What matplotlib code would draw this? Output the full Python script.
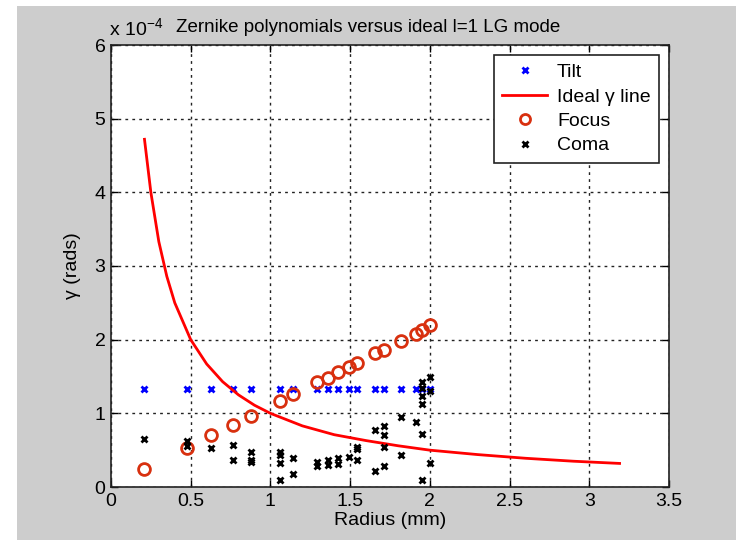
import numpy as np
import matplotlib
matplotlib.use('Agg')
import matplotlib.pyplot as plt
from matplotlib.patches import Rectangle

plt.rcParams['font.family'] = ['Liberation Sans', 'DejaVu Sans']
plt.rcParams['mathtext.fontset'] = 'custom'
plt.rcParams['mathtext.rm'] = 'Liberation Sans'

# radius samples (mm) shared by tilt / focus
radius = [0.21, 0.475, 0.63, 0.765, 0.875, 1.06, 1.14, 1.29, 1.36, 1.425,
          1.49, 1.545, 1.655, 1.715, 1.82, 1.91, 1.95, 2.0]
tilt = [1.33] * len(radius)
focus = [0.25, 0.53, 0.70, 0.84, 0.965, 1.165, 1.26, 1.42, 1.48, 1.56,
         1.63, 1.69, 1.825, 1.865, 1.98, 2.075, 2.13, 2.195]

# ideal gamma line
ideal_r = [0.21, 0.25, 0.3, 0.35, 0.4, 0.5, 0.6, 0.7, 0.8, 0.9, 1.0, 1.2,
           1.4, 1.6, 1.8, 2.0, 2.3, 2.6, 2.9, 3.19]
ideal_g = [4.72, 4.0, 3.33, 2.86, 2.5, 2.0, 1.67, 1.43, 1.25, 1.11, 1.0, 0.83,
           0.71, 0.63, 0.56, 0.5, 0.44, 0.39, 0.35, 0.32]

# coma points
coma_r = [0.21, 0.475, 0.475, 0.63, 0.765, 0.765, 0.875, 0.875, 0.875,
          1.06, 1.06, 1.06, 1.06, 1.14, 1.14, 1.29, 1.29, 1.36, 1.36,
          1.425, 1.425, 1.49, 1.545, 1.545, 1.545, 1.655, 1.655,
          1.715, 1.715, 1.715, 1.715, 1.82, 1.82, 1.91, 1.95, 1.95, 1.95,
          1.95, 1.95, 1.95, 2.0, 2.0, 2.0]
coma = [0.645, 0.62, 0.56, 0.525, 0.565, 0.37, 0.48, 0.37, 0.34,
        0.48, 0.44, 0.33, 0.10, 0.40, 0.17, 0.34, 0.28, 0.36, 0.30,
        0.39, 0.31, 0.41, 0.545, 0.51, 0.36, 0.775, 0.22,
        0.83, 0.70, 0.54, 0.28, 0.95, 0.44, 0.885, 1.43, 1.34, 1.24,
        1.12, 0.72, 0.10, 1.49, 1.30, 0.33]

fig = plt.figure(figsize=(7.36, 5.4), dpi=100, facecolor='white')
fig.patches.append(Rectangle((17 / 736, 0), 1, 1 - 6 / 540, transform=fig.transFigure,
                             facecolor='#cdcdcd', edgecolor='none', zorder=-10))

ax = fig.add_axes([111 / 736, 1 - 487 / 540, (669 - 111) / 736, (487 - 45) / 540])
ax.set_facecolor('white')

scale = 1e-4
ax.plot(radius, np.array(tilt) * scale, 'x', color='#0000ff', ms=4.5, mew=2, label='Tilt')
ax.plot(ideal_r, np.array(ideal_g) * scale, '-', color='#ff0000', lw=2, label='Ideal γ line')
ax.plot(radius, np.array(focus) * scale, 'o', mfc='none', mec='#d8300f', ms=8.5, mew=2, label='Focus')
ax.plot(coma_r, np.array(coma) * scale, 'x', color='black', ms=4.5, mew=2, label='Coma')

ax.set_xlim(0, 3.5)
ax.set_ylim(0, 6e-4)
ax.set_xticks([0, 0.5, 1, 1.5, 2, 2.5, 3, 3.5])
ax.set_xticklabels(['0', '0.5', '1', '1.5', '2', '2.5', '3', '3.5'])
ax.set_yticks(np.arange(7) * 1e-4)
ax.set_yticklabels([str(i) for i in range(7)])
ax.tick_params(direction='in', top=True, right=True, labelsize=14, length=5, width=1, pad=4)
ax.grid(True, color='#222222', linestyle=(0, (2, 3)), lw=1)
ax.set_axisbelow(True)
for s in ax.spines.values():
    s.set_linewidth(1.2)
    s.set_color('#222222')

ax.set_xlabel('Radius (mm)', fontsize=14, labelpad=2)
ax.set_ylabel('γ (rads)', fontsize=14, labelpad=10)
ax.set_title('Zernike polynomials versus ideal l=1 LG mode', fontsize=13.5, pad=9, x=0.46)
ax.text(-0.003, 1.012, r'x 10$^{-4}$', transform=ax.transAxes, fontsize=14,
        ha='left', va='bottom')

leg = ax.legend(loc='upper right', fontsize=14, fancybox=False, framealpha=1,
                edgecolor='#222222', borderaxespad=0.5, handlelength=2.3,
                labelspacing=0.35, borderpad=0.45, handletextpad=0.5, markerscale=0.85)
leg.get_frame().set_linewidth(1.2)

fig.savefig('out.png', dpi=100, facecolor=fig.get_facecolor())
